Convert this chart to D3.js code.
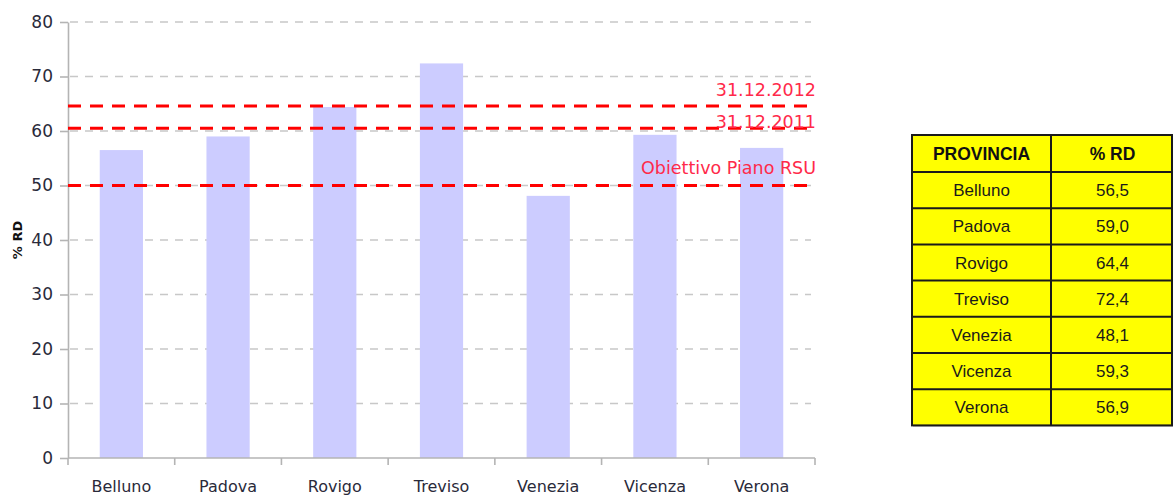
<!DOCTYPE html>
<html>
<head>
<meta charset="utf-8">
<script src="https://cdn.jsdelivr.net/npm/d3@7"></script>
<style>
  html, body { margin: 0; padding: 0; background: #fff; }
  svg { display: block; }
</style>
</head>
<body>
<svg id="chart" width="1173" height="495"></svg>
<script>
// Raccolta differenziata per provincia (%)
const province = ["Belluno", "Padova", "Rovigo", "Treviso", "Venezia", "Vicenza", "Verona"];
const percentRD = [56.5, 59.0, 64.4, 72.4, 48.1, 59.3, 56.9];
const yTicks = [0, 10, 20, 30, 40, 50, 60, 70, 80];
const targetLabels = ["31.12.2012", "31.12.2011", "Obiettivo Piano RSU"];
const targetValues = [64.6, 60.5, 50];
const tableHeader = ["PROVINCIA", "% RD"];

const svg = d3.select("#chart");
const plot = { left: 68, right: 815, top: 22, bottom: 458 };

const x = d3.scaleBand().domain(province).range([plot.left, plot.right]).padding(0);
const y = d3.scaleLinear().domain([0, 80]).range([plot.bottom, plot.top]);

// horizontal grid
svg.append("g")
  .selectAll("line")
  .data(yTicks.filter(d => d > 0))
  .join("line")
  .attr("x1", plot.left + 2).attr("x2", 811)
  .attr("y1", d => y(d)).attr("y2", d => y(d))
  .attr("stroke", "#c8c8c8").attr("stroke-width", 1.6)
  .attr("stroke-dasharray", "8,7");

// bars
const barW = x.bandwidth() * 0.405;
svg.append("g")
  .selectAll("rect")
  .data(province.map((p, i) => ({ p, v: percentRD[i] })))
  .join("rect")
  .attr("x", d => x(d.p) + x.bandwidth() / 2 - barW / 2)
  .attr("width", barW)
  .attr("y", d => y(d.v))
  .attr("height", d => y(0) - y(d.v))
  .attr("fill", "#ccccff");

// y axis
const yAxis = svg.append("g")
  .attr("transform", `translate(${plot.left},0)`)
  .call(d3.axisLeft(y).tickValues(yTicks).tickSize(8).tickPadding(7).tickSizeOuter(0));
yAxis.select(".domain").attr("stroke", "#b4b4b4").attr("stroke-width", 1.6);
yAxis.selectAll(".tick line").attr("stroke", "#b4b4b4").attr("stroke-width", 1.6);
yAxis.selectAll(".tick text")
  .attr("fill", "#2a2a3a")
  .style("font-family", "'DejaVu Sans', sans-serif")
  .style("font-size", "17px");

// x axis with ticks at category boundaries
const xAxisG = svg.append("g").attr("transform", `translate(0,${plot.bottom})`);
xAxisG.append("line")
  .attr("x1", plot.left).attr("x2", plot.right)
  .attr("stroke", "#b4b4b4").attr("stroke-width", 1.6);
const bounds = province.map(p => x(p)).concat([x(province[province.length - 1]) + x.bandwidth()]);
xAxisG.selectAll("line.tk")
  .data(bounds)
  .join("line")
  .attr("class", "tk")
  .attr("x1", d => d).attr("x2", d => d)
  .attr("y1", 0).attr("y2", 7)
  .attr("stroke", "#b4b4b4").attr("stroke-width", 1.6);
xAxisG.selectAll("text")
  .data(province)
  .join("text")
  .attr("x", d => x(d) + x.bandwidth() / 2)
  .attr("y", 34)
  .attr("text-anchor", "middle")
  .attr("fill", "#2a2a3a")
  .style("font-family", "'DejaVu Sans', sans-serif")
  .style("font-size", "16px")
  .text(d => d);

// y axis title
svg.append("text")
  .attr("transform", `translate(22,240) rotate(-90)`)
  .attr("text-anchor", "middle")
  .attr("fill", "#111")
  .style("font-family", "'DejaVu Sans', sans-serif")
  .style("font-weight", "bold")
  .style("font-size", "13px")
  .text("% RD");

// target lines
const targets = targetLabels.map((l, i) => ({ l, v: targetValues[i] }));
svg.append("g")
  .selectAll("line")
  .data(targets)
  .join("line")
  .attr("x1", plot.left).attr("x2", 812)
  .attr("y1", d => y(d.v)).attr("y2", d => y(d.v))
  .attr("stroke", "#ff0000").attr("stroke-width", 3)
  .attr("stroke-dasharray", "13,9");

svg.append("g")
  .selectAll("text")
  .data(targets)
  .join("text")
  .attr("x", 816)
  .attr("y", (d, i) => y(d.v) + [-10, 0, -12][i])
  .attr("text-anchor", "end")
  .attr("fill", "#ff2a4a")
  .style("font-family", "'DejaVu Sans', sans-serif")
  .style("font-size", "17.5px")
  .text(d => d.l);

// summary table
const itFmt = d3.formatLocale({ decimal: ",", thousands: ".", grouping: [3], currency: ["", "€"] }).format(".1f");
const tbl = { left: 912, mid: 1051, right: 1172, top: 135, headH: 37, rowH: 36.2 };
const rowY = d3.scaleLinear()
  .domain([0, province.length])
  .range([tbl.top + tbl.headH, tbl.top + tbl.headH + tbl.rowH * province.length]);
const tg = svg.append("g");
const tBottom = rowY(province.length);

tg.append("rect")
  .attr("x", tbl.left + 1).attr("y", tbl.top + 1)
  .attr("width", tbl.right - tbl.left).attr("height", tBottom - tbl.top)
  .attr("fill", "#9a9a9a");
tg.append("rect")
  .attr("x", tbl.left).attr("y", tbl.top)
  .attr("width", tbl.right - tbl.left).attr("height", tBottom - tbl.top)
  .attr("fill", "#ffff00").attr("stroke", "#1a1a1a").attr("stroke-width", 2);

tg.append("line")
  .attr("x1", tbl.mid).attr("x2", tbl.mid)
  .attr("y1", tbl.top).attr("y2", tBottom)
  .attr("stroke", "#1a1a1a").attr("stroke-width", 2);
tg.selectAll("line.row")
  .data(d3.range(province.length))
  .join("line")
  .attr("class", "row")
  .attr("x1", tbl.left).attr("x2", tbl.right)
  .attr("y1", i => rowY(i)).attr("y2", i => rowY(i))
  .attr("stroke", "#1a1a1a").attr("stroke-width", 2);

const c1 = (tbl.left + tbl.mid) / 2, c2 = (tbl.mid + tbl.right) / 2 + 1;
tg.selectAll("text.head")
  .data(tableHeader)
  .join("text")
  .attr("class", "head")
  .attr("x", (d, i) => i === 0 ? c1 : c2)
  .attr("y", tbl.top + tbl.headH / 2 + 6)
  .attr("text-anchor", "middle")
  .attr("fill", "#111")
  .style("font-family", "'Liberation Sans', Arial, sans-serif")
  .style("font-weight", "bold")
  .style("font-size", "17.5px")
  .text(d => d);

province.forEach((p, i) => {
  const cy = (rowY(i) + rowY(i + 1)) / 2 + 6;
  tg.append("text")
    .attr("x", c1).attr("y", cy)
    .attr("text-anchor", "middle")
    .attr("fill", "#1a1a1a")
    .style("font-family", "'Liberation Sans', Arial, sans-serif")
    .style("font-size", "17px")
    .text(p);
  tg.append("text")
    .attr("x", c2).attr("y", cy)
    .attr("text-anchor", "middle")
    .attr("fill", "#1a1a1a")
    .style("font-family", "'Liberation Sans', Arial, sans-serif")
    .style("font-size", "17px")
    .text(itFmt(percentRD[i]));
});
</script>
</body>
</html>
